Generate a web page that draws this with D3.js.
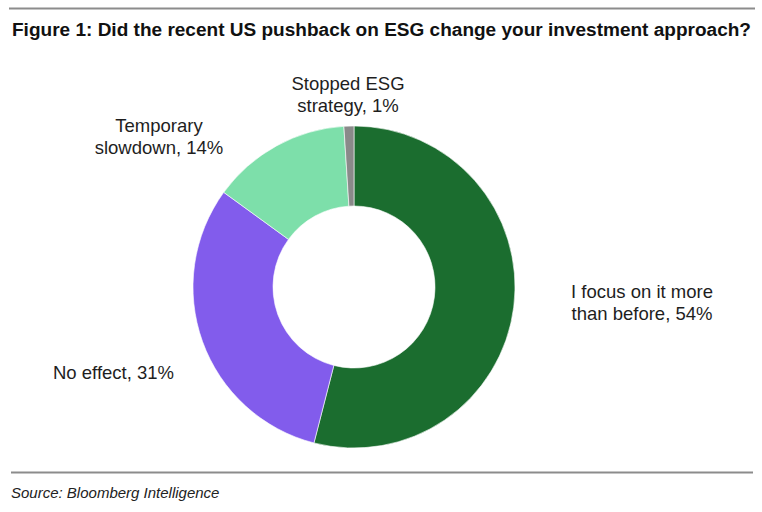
<!DOCTYPE html>
<html><head><meta charset="utf-8">
<script src="https://cdn.jsdelivr.net/npm/d3@7"></script>
<style>body{margin:0;background:#fff;} svg{display:block;font-family:"Liberation Sans",Arial,Helvetica,sans-serif;}</style>
</head><body>
<script>
const categories = ["I focus on it more than before", "No effect", "Temporary slowdown", "Stopped ESG strategy"];
const values = [54, 31, 14, 1];
const colors = ["#1b6d2f", "#825cec", "#7ddfaa", "#8a8a8a"];
const labelLines = [["I focus on it more", "than before, 54%"], ["No effect, 31%"], ["Temporary", "slowdown, 14%"], ["Stopped ESG", "strategy, 1%"]];

const W = 762, H = 512;
const svg = d3.select("body").append("svg").attr("width", W).attr("height", H);

svg.append("line").attr("x1", 9).attr("x2", 755).attr("y1", 8.5).attr("y2", 8.5).attr("stroke", "#8c8c8c").attr("stroke-width", 2);
svg.append("text").attr("x", 12).attr("y", 36).attr("font-size", 18).attr("font-weight", "bold").attr("fill", "#111")
  .attr("textLength", 739).attr("lengthAdjust", "spacingAndGlyphs")
  .text("Figure 1: Did the recent US pushback on ESG change your investment approach?");

const cx = 354, cy = 287;
const pie = d3.pie().sort(null).value(d => d);
const arc = d3.arc().innerRadius(81).outerRadius(161);
const g = svg.append("g").attr("transform", `translate(${cx},${cy})`);
g.selectAll("path").data(pie(values)).enter().append("path")
  .attr("d", arc).attr("fill", (d, i) => colors[i]).attr("stroke", "#fff").attr("stroke-width", 0.6);

// labels
const labelPos = [
  {x: 642, y: 298, anchor: "middle"},
  {x: 53, y: 379, anchor: "start"},
  {x: 159, y: 132, anchor: "middle"},
  {x: 348, y: 90, anchor: "middle"}
];
labelLines.forEach((lines, i) => {
  const p = labelPos[i];
  const t = svg.append("text").attr("font-size", 18.5).attr("fill", "#1e1e1e").attr("text-anchor", p.anchor);
  lines.forEach((ln, j) => {
    t.append("tspan").attr("x", p.x).attr("y", p.y + j * 21.5).text(ln);
  });
});

svg.append("line").attr("x1", 11).attr("x2", 753).attr("y1", 472.5).attr("y2", 472.5).attr("stroke", "#8c8c8c").attr("stroke-width", 2);
svg.append("text").attr("x", 11).attr("y", 498).attr("font-size", 15).attr("font-style", "italic").attr("fill", "#222")
  .text("Source: Bloomberg Intelligence");
</script>
</body></html>
